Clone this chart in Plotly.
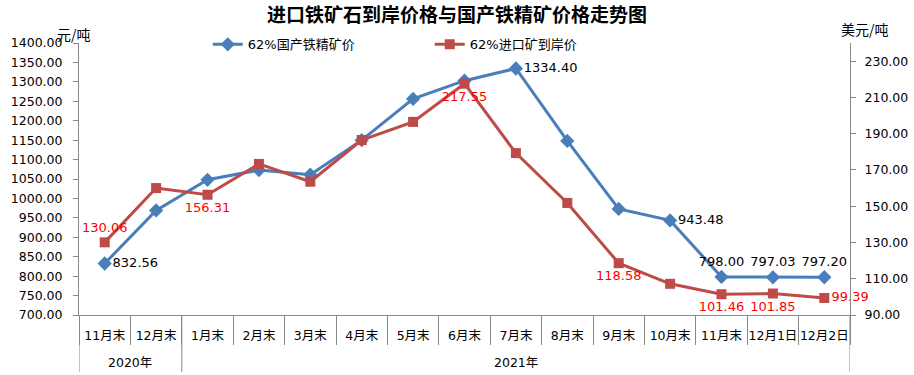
import plotly.graph_objects as go

months = ["11月末", "12月末", "1月末", "2月末", "3月末", "4月末", "5月末", "6月末",
          "7月末", "8月末", "9月末", "10月末", "11月末", "12月1日", "12月2日"]
year_groups = ["2020年", "2021年"]
year_counts = [2, 13]

domestic = [832.56, 969, 1048, 1073, 1061, 1150, 1256, 1303, 1334.40, 1148,
            973, 943.48, 798.00, 797.03, 797.20]
imported = [130.06, 160.0, 156.31, 173.3, 163.5, 186.5, 196.5, 217.55, 179.3,
            151.8, 118.58, 107.2, 101.46, 101.85, 99.39]

dom_labels = ["832.56", "", "", "", "", "", "", "", "1334.40", "", "",
              "943.48", "798.00", "797.03", "797.20"]
dom_pos = ["middle right"] * 12 + ["top center"] * 3
imp_labels = ["130.06", "", "156.31", "", "", "", "", "217.55", "", "",
              "118.58", "", "101.46", "101.85", "99.39"]
imp_pos = ["top center", "top center", "bottom center", "top center", "top center",
           "top center", "top center", "bottom center", "top center", "top center",
           "bottom center", "top center", "bottom center", "bottom center", "middle right"]

FONT = "Tahoma, 'DejaVu Sans', 'Noto Sans CJK SC', sans-serif"
CJK = "'Noto Sans CJK SC', sans-serif"
BLUE = "#4A7EBB"
RED = "#BE4B48"
GREY = "#888888"

idx = list(range(len(months)))

fig = go.Figure()
fig.add_trace(go.Scatter(
    x=idx, y=domestic, name="62%国产铁精矿价",
    mode="lines+markers+text", text=dom_labels, textposition=dom_pos,
    textfont=dict(color="#000000", size=13, family=FONT),
    line=dict(color=BLUE, width=3),
    marker=dict(symbol="diamond", size=11, color=BLUE),
    cliponaxis=False,
))
fig.add_trace(go.Scatter(
    x=idx, y=imported, name="62%进口矿到岸价", yaxis="y2",
    mode="lines+markers+text", text=imp_labels, textposition=imp_pos,
    textfont=dict(color="#FF0000", size=13, family=FONT),
    line=dict(color=RED, width=3),
    marker=dict(symbol="square", size=10, color=RED),
    cliponaxis=False,
))

axis_common = dict(showgrid=False, zeroline=False, showline=True,
                   linecolor=GREY, linewidth=1, ticks="outside",
                   tickcolor=GREY, ticklen=5, automargin=False,
                   tickfont=dict(size=12.5, color="#000000", family=FONT))

# year group labels and dividers
annotations = []
shapes = []
start = 0
bounds = [-0.5]
for name, cnt in zip(year_groups, year_counts):
    center = start + (cnt - 1) / 2
    annotations.append(dict(text=name, x=center, xref="x", y=-47 / 272, yref="paper",
                            showarrow=False, xanchor="center", yanchor="middle",
                            font=dict(size=12.5, color="#000000", family=FONT)))
    start += cnt
    bounds.append(start - 0.5)
for b in bounds:
    shapes.append(dict(type="line", xref="x", yref="paper", x0=b, x1=b,
                       y0=0, y1=-57 / 272, line=dict(color=GREY, width=1)))

annotations += [
    dict(text="元/吨", xref="paper", yref="paper", x=(74 - 79) / 771, y=(315 - 34) / 272,
         xanchor="center", yanchor="middle", showarrow=False,
         font=dict(size=14, color="#000000", family=CJK)),
    dict(text="美元/吨", xref="paper", yref="paper", x=(865 - 79) / 771, y=(315 - 29) / 272,
         xanchor="center", yanchor="middle", showarrow=False,
         font=dict(size=14, color="#000000", family=CJK)),
]

fig.update_layout(
    width=914, height=375,
    margin=dict(l=79, r=64, t=43, b=60),
    paper_bgcolor="white", plot_bgcolor="white",
    title=dict(text="<b>进口铁矿石到岸价格与国产铁精矿价格走势图</b>",
               x=0.5, xanchor="center", y=1 - 15 / 375, yanchor="middle",
               font=dict(size=19, color="#000000", family=CJK)),
    showlegend=True,
    legend=dict(orientation="h", x=0.167, xanchor="left", y=0.995, yanchor="middle",
                font=dict(size=13, color="#000000", family=FONT),
                entrywidth=177, entrywidthmode="pixels",
                bgcolor="rgba(0,0,0,0)"),
    xaxis=dict(range=[-0.5, len(months) - 0.5], tickmode="array", tickvals=idx,
               ticktext=months, tickangle=0, showgrid=False, zeroline=False,
               showline=True, linecolor=GREY, linewidth=1, automargin=False,
               ticks="outside", ticklen=9, tickcolor="rgba(0,0,0,0)",
               minor=dict(tickmode="linear", tick0=-0.5, dtick=1, ticks="outside",
                          ticklen=29, tickcolor=GREY, showgrid=False),
               tickfont=dict(size=12.5, color="#000000", family=FONT)),
    yaxis=dict(range=[700, 1400], dtick=50, tickformat=".2f",
               ticklabelstandoff=8, **axis_common),
    yaxis2=dict(range=[90, 240], tick0=90, dtick=20, tickformat=".2f",
                overlaying="y", side="right", ticklabelstandoff=6, **axis_common),
    annotations=annotations,
    shapes=shapes,
)

fig.write_html("out.html", config={"displayModeBar": False},
               post_script="document.body.style.margin='0';")
